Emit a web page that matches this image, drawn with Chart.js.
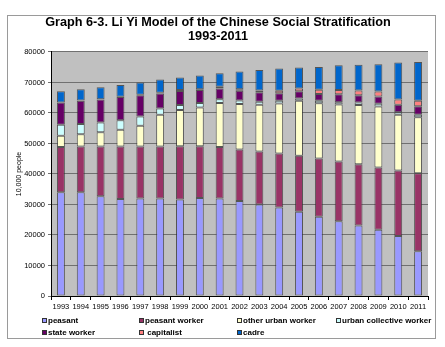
<!DOCTYPE html>
<html>
<head>
<meta charset="utf-8">
<script src="https://cdn.jsdelivr.net/npm/chart.js@4/dist/chart.umd.min.js"></script>
<style>
  body { margin: 0; background: #fff; font-family: "Liberation Sans", Arial, sans-serif; }
  #wrap { position: relative; width: 445px; height: 347px; }
  #frame { position: absolute; left: 7px; top: 15px; width: 429px; height: 324px; border: 1px solid #9a9a9a; box-sizing: border-box; }
  #chart { position: absolute; left: 0; top: 0; }
  #legend { position: absolute; left: 0; top: 0; width: 445px; height: 347px; pointer-events: none; }
  .item { position: absolute; font: bold 8px "Liberation Sans", Arial, sans-serif; color: #000; white-space: pre; line-height: 9px; }
  .box { display: inline-block; width: 5px; height: 5px; border: 1px solid #333; margin-right: 1px; vertical-align: 0px; box-sizing: border-box; }
</style>
</head>
<body>
<div id="wrap">
  <div id="frame"></div>
  <canvas id="chart" width="445" height="347"></canvas>
  <div id="legend"></div>
</div>
<script>
const years = ["1993", "1994", "1995", "1996", "1997", "1998", "1999", "2000", "2001", "2002",
  "2003", "2004", "2005", "2006", "2007", "2008", "2009", "2010", "2011"];

// values in 10,000 people
const peasant =         [34000, 34000, 32700, 31800, 32000, 32000, 31600, 32100, 32000, 31100,
  30000, 29000, 27600, 26000, 24500, 23100, 21700, 19700, 14700];
const peasantWorker =   [14800, 15000, 16300, 17200, 17000, 17000, 17500, 17000, 16800, 16900,
  17400, 17700, 18400, 19100, 19600, 20100, 20400, 21400, 25500];
const otherUrbanWorker = [3700, 4000, 4700, 5500, 6800, 10400, 11900, 12700, 14500, 14900,
  15300, 16400, 18000, 18100, 18700, 19400, 20000, 18300, 18400];
const urbanCollectiveWorker = [3600, 3400, 3200, 3100, 3000, 2100, 1600, 1500, 1200, 1200,
  1000, 900, 700, 800, 700, 800, 900, 800, 800];
const stateWorker =     [7300, 7600, 7500, 7600, 7000, 4900, 4600, 4200, 3500, 3200,
  3100, 2500, 2400, 2200, 2600, 2400, 2400, 2500, 2800];
const capitalist =      [50, 50, 100, 150, 200, 250, 300, 300, 600, 500,
  600, 800, 900, 1400, 1400, 1600, 1600, 1700, 1800];
const cadre =           [3650, 3750, 3900, 3850, 4000, 4350, 4100, 4500, 4400, 5800,
  6700, 7300, 6900, 7500, 8100, 8400, 9000, 12100, 12700];

const seriesNames = ["peasant", "peasant worker", "other urban worker", "urban collective worker",
  "state worker", "capitalist", "cadre"];
const seriesColors = ["#9999FF", "#993366", "#FFFFCC", "#CCFFFF", "#660066", "#FF8080", "#0066CC"];
const seriesData = [peasant, peasantWorker, otherUrbanWorker, urbanCollectiveWorker,
  stateWorker, capitalist, cadre];

const FONT = "'Liberation Sans', Arial, sans-serif";

// grey plot background
const plotBg = {
  id: "plotBg",
  beforeDraw(chart) {
    const { ctx, chartArea: a } = chart;
    ctx.save();
    ctx.fillStyle = "#C0C0C0";
    ctx.fillRect(a.left, a.top, a.right - a.left, a.bottom - a.top);
    ctx.restore();
  },
};

new Chart(document.getElementById("chart"), {
  type: "bar",
  data: {
    labels: years,
    datasets: seriesData.map((d, i) => ({
      label: seriesNames[i],
      data: d,
      backgroundColor: seriesColors[i],
      borderColor: "rgba(50,50,50,0.75)",
      borderWidth: 1,
      borderSkipped: false,
      barPercentage: 0.4,
      categoryPercentage: 1,
    })),
  },
  options: {
    responsive: false,
    animation: false,
    layout: { padding: { top: 16, left: 8, right: 17, bottom: 36 } },
    plugins: {
      legend: { display: false },
      tooltip: { enabled: false },
      title: {
        display: true,
        text: ["Graph 6-3. Li Yi Model of the Chinese Social Stratification", "1993-2011"],
        color: "#000",
        font: { family: FONT, size: 12.7, weight: "bold", lineHeight: 1.1 },
        padding: { top: 0, bottom: 8 },
      },
    },
    scales: {
      x: {
        stacked: true,
        grid: { drawOnChartArea: false, drawTicks: true, tickLength: 4, color: "#000" },
        border: { color: "#000" },
        ticks: { color: "#000", font: { family: FONT, size: 7.5 }, padding: 2, maxRotation: 0, autoSkip: false },
        afterFit(s) { s.height = 15; },
      },
      y: {
        stacked: true,
        min: 0,
        max: 80000,
        grid: { color: "#707070", tickLength: 3 },
        border: { color: "#000" },
        ticks: {
          stepSize: 10000,
          color: "#000",
          font: { family: FONT, size: 7.5 },
          padding: 3,
          callback: v => String(v),
        },
        title: {
          display: true,
          text: "10,000 people",
          color: "#000",
          font: { family: FONT, size: 7 },
          padding: { top: 7, bottom: 0 },
        },
        afterFit(s) { s.width = 43; },
      },
    },
  },
  plugins: [plotBg],
});

// legend laid out in columns like the original
const legendPos = [
  [42, 316], [139, 316], [237, 316], [336, 316],
  [42, 328], [139, 328], [237, 328],
];
const legend = document.getElementById("legend");
seriesNames.forEach((name, i) => {
  const el = document.createElement("div");
  el.className = "item";
  el.style.left = legendPos[i][0] + "px";
  el.style.top = legendPos[i][1] + "px";
  const label = name === "capitalist" ? " " + name : name;
  el.innerHTML = `<span class="box" style="background:${seriesColors[i]}"></span>${label}`;
  legend.appendChild(el);
});
</script>
</body>
</html>
